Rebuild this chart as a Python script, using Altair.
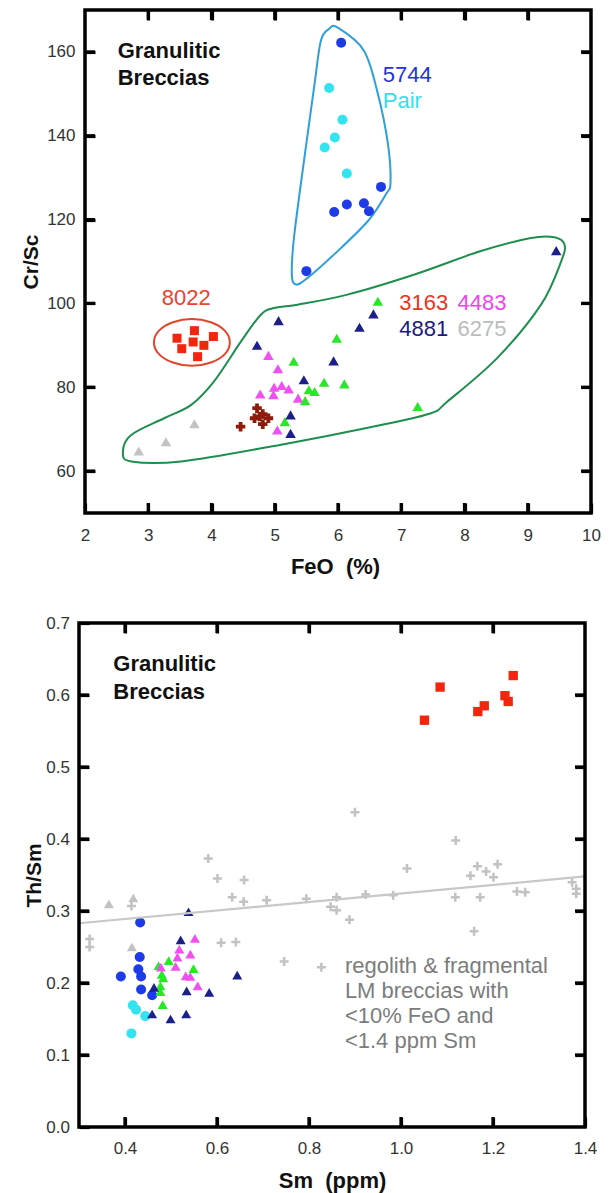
import altair as alt
import pandas as pd

FONT = "Liberation Sans"

# ---------------- top panel: Cr/Sc vs FeO ----------------
s5744_feo = [6.05, 6.68, 5.94, 6.14, 6.41, 6.49, 5.50]
s5744_crsc = [162.2, 127.8, 121.8, 123.6, 123.9, 122.0, 107.7]
pair_feo = [5.86, 6.07, 5.95, 5.79, 6.14]
pair_crsc = [151.4, 143.8, 139.6, 137.2, 131.0]
s4881_feo = [9.45, 5.06, 6.56, 6.34, 4.72, 5.93, 5.46, 5.25, 5.25]
s4881_crsc = [112.6, 95.9, 97.5, 94.3, 90.0, 86.3, 81.8, 73.4, 69.0]
green_feo = [6.63, 5.98, 5.30, 5.78, 6.10, 5.54, 5.63, 5.48, 7.26, 5.16]
green_crsc = [100.5, 91.7, 86.2, 81.2, 80.8, 79.4, 79.0, 76.8, 75.4, 71.8]
s4483_feo = [4.90, 5.05, 4.99, 5.11, 5.22, 4.77, 4.98, 5.37, 5.04]
s4483_crsc = [87.6, 84.4, 80.0, 80.4, 79.6, 78.4, 78.2, 77.4, 69.8]
dkred_feo = [4.46, 4.72, 4.68, 4.81, 4.90, 4.81, 4.76]
dkred_crsc = [70.6, 75.0, 72.6, 73.6, 72.6, 71.2, 73.0]
s6275_feo = [2.85, 3.28, 3.73]
s6275_crsc = [64.8, 67.0, 71.3]
s8022_feo = [3.455, 3.73, 4.03, 3.71, 3.53, 3.88, 3.78]
s8022_crsc = [91.7, 93.5, 92.1, 90.8, 89.2, 90.0, 87.3]

blue_outline_feo = [5.995, 6.41, 6.63, 6.79, 6.83, 6.76, 6.47, 5.94, 5.52, 5.34, 5.27, 5.31, 5.52, 5.63, 5.73, 5.86]
blue_outline_crsc = [165.8, 160.3, 150.0, 138.0, 128.8, 126.1, 119.6, 111.7, 106.1, 104.5, 106.9, 116.5, 140.4, 152.4, 162.7, 165.5]
green_outline_feo = [9.42, 9.58, 9.53, 9.21, 8.52, 7.73, 7.47, 6.68, 5.10, 3.52, 2.73, 2.60, 2.73, 3.25, 3.68, 4.04, 4.47, 4.78, 4.99, 5.36, 6.15, 7.21, 8.26, 9.05]
green_outline_crsc = [115.8, 114.1, 110.1, 99.7, 87.0, 76.6, 73.8, 71.0, 66.3, 62.3, 62.3, 64.6, 68.6, 72.6, 75.8, 81.4, 91.0, 97.3, 98.9, 99.7, 102.1, 106.9, 112.5, 115.6]
red_outline_feo = [4.29, 4.21, 3.99, 3.69, 3.39, 3.17, 3.09, 3.17, 3.39, 3.69, 3.99, 4.21]
red_outline_crsc = [90.7, 93.5, 95.5, 96.3, 95.5, 93.5, 90.7, 87.9, 85.9, 85.1, 85.9, 87.9]

top_x_range = [2, 10]
top_y_range = [50, 170]
top_x_labels = [2, 3, 4, 5, 6, 7, 8, 9, 10]
top_x_ticks = [3, 4, 5, 6, 7, 8, 9]
top_y_labels = [60, 80, 100, 120, 140, 160]
top_y_ticks = [60, 80, 100, 120, 140, 160]

# ---------------- bottom panel: Th/Sm vs Sm ----------------
b8022_sm = [1.051, 1.085, 1.167, 1.181, 1.226, 1.233, 1.244]
b8022_thsm = [0.565, 0.611, 0.577, 0.585, 0.599, 0.591, 0.627]
b5744_sm = [0.433, 0.432, 0.429, 0.435, 0.391, 0.435, 0.459]
b5744_thsm = [0.284, 0.236, 0.219, 0.209, 0.209, 0.191, 0.183]
bpair_sm = [0.417, 0.424, 0.444, 0.414]
bpair_thsm = [0.169, 0.163, 0.154, 0.130]
b4881_sm = [0.538, 0.521, 0.644, 0.463, 0.534, 0.583, 0.459, 0.499, 0.533]
b4881_thsm = [0.299, 0.260, 0.211, 0.194, 0.189, 0.187, 0.157, 0.150, 0.157]
bgreen_sm = [0.473, 0.495, 0.549, 0.483, 0.477, 0.477, 0.482, 0.480]
bgreen_thsm = [0.224, 0.231, 0.220, 0.207, 0.196, 0.188, 0.170, 0.212]
b4483_sm = [0.552, 0.518, 0.514, 0.542, 0.510, 0.478, 0.532, 0.542, 0.558]
b4483_thsm = [0.262, 0.247, 0.236, 0.240, 0.223, 0.222, 0.210, 0.209, 0.196]
b6275_sm = [0.365, 0.418, 0.415]
b6275_thsm = [0.310, 0.318, 0.250]
regolith_sm = [0.323, 0.323, 0.414, 0.581, 0.601, 0.659, 0.633, 0.658, 0.708, 0.794,
               0.860, 0.847, 0.860, 0.888, 0.900, 0.923, 0.983, 1.013, 1.118, 1.119,
               1.172, 1.159, 1.151, 1.166, 1.185, 1.201, 1.210, 1.252, 1.270, 1.372,
               1.381, 1.381, 0.746, 0.827, 0.609, 0.641]
regolith_thsm = [0.261, 0.250, 0.307, 0.373, 0.345, 0.343, 0.319, 0.313, 0.315, 0.317,
                 0.319, 0.306, 0.301, 0.288, 0.437, 0.323, 0.322, 0.359, 0.319, 0.398,
                 0.319, 0.272, 0.349, 0.362, 0.355, 0.347, 0.365, 0.327, 0.326, 0.340,
                 0.331, 0.324, 0.230, 0.222, 0.256, 0.257]
trend_sm = [0.3, 1.4]
trend_thsm = [0.283, 0.348]

bot_x_range = [0.3, 1.4]
bot_y_range = [0.0, 0.7]
bot_x_labels = [0.4, 0.6, 0.8, 1.0, 1.2, 1.4]
bot_x_ticks = [0.4, 0.6, 0.8, 1.0, 1.2]
bot_y_labels = [0.0, 0.1, 0.2, 0.3, 0.4, 0.5, 0.6, 0.7]
bot_y_ticks = [0.1, 0.2, 0.3, 0.4, 0.5, 0.6]

# colours
C_BLUE = "#1d3be6"
C_CYAN = "#33e3f0"
C_NAVY = "#1b1f8a"
C_GREEN = "#28e628"
C_MAGENTA = "#f050f0"
C_DKRED = "#8e1c0c"
C_RED = "#f2260f"
C_GRAY = "#c2c2c2"

PLUS = "M-1,-0.28H-0.28V-1H0.28V-0.28H1V0.28H0.28V1H-0.28V0.28H-1Z"
VBAR = "M-0.32,-1H0.32V1H-0.32Z"
HBAR = "M-1,-0.32H1V0.32H-1Z"
TICK_LEN = 10
TICK_W = 3.2


def make_axis(title, values, fmt, label_pad, title_pad, title_size, inset):
    # ticks point into the frame: the axis is moved `inset` px inside the view
    return alt.Axis(title=title, values=values, format=fmt, ticks=True,
                    tickSize=TICK_LEN, tickWidth=TICK_W, tickColor="black",
                    offset=-inset, domain=False, grid=False, labelFlush=False,
                    labelOverlap=False, labelPadding=label_pad, titlePadding=title_pad,
                    labelFont=FONT, titleFont=FONT, labelFontSize=17,
                    titleFontSize=title_size, labelColor="#333333", titleColor="#111111",
                    titleFontWeight="bold")


def mirror_axis(orient, values):
    return alt.Axis(orient=orient, values=values, labels=False, ticks=True,
                    tickSize=TICK_LEN, tickWidth=TICK_W, tickColor="black",
                    offset=-TICK_LEN, domain=False, grid=False, title=None)


class Panel:
    def __init__(self, xdom, ydom, xaxis, yaxis, w, h, left_px=0.0):
        # left_px: blank strip (pixels) between the panel origin and the frame
        self.xr = xdom
        self.yr = ydom
        self.frame_w = w - left_px
        span = xdom[1] - xdom[0]
        x0 = xdom[0] - span * left_px / self.frame_w
        self.sx = alt.Scale(domain=[x0, xdom[1]], nice=False, zero=False)
        self.sy = alt.Scale(domain=ydom, nice=False, zero=False)
        self.ax = xaxis
        self.ay = yaxis
        self.w = w
        self.h = h
        self.layers = []
        self.mirror = None

    def X(self, f):
        return alt.X(f"{f}:Q", scale=self.sx, axis=self.ax)

    def Y(self, f):
        return alt.Y(f"{f}:Q", scale=self.sy, axis=self.ay)

    def Xd(self, v):
        return alt.X(datum=v, type="quantitative", scale=self.sx, axis=self.ax)

    def Yd(self, v):
        return alt.Y(datum=v, type="quantitative", scale=self.sy, axis=self.ay)

    def dx_px(self, px):
        return (self.xr[1] - self.xr[0]) * px / self.frame_w

    def dy_px(self, px):
        return (self.yr[1] - self.yr[0]) * px / self.h

    def points(self, xs, ys, shape, color, size):
        df = pd.DataFrame({"x": xs, "y": ys})
        self.layers.append(
            alt.Chart(df).mark_point(shape=shape, filled=True, color=color, size=size,
                                     opacity=1, strokeWidth=0)
            .encode(x=self.X("x"), y=self.Y("y")))

    def outline(self, xs, ys, color, width=2.0):
        df = pd.DataFrame({"x": xs, "y": ys, "i": list(range(len(xs)))})
        self.layers.append(
            alt.Chart(df).mark_line(color=color, strokeWidth=width,
                                    interpolate="cardinal-closed")
            .encode(x=self.X("x"), y=self.Y("y"), order=alt.Order("i:Q")))

    def line(self, xs, ys, color, width=2.0):
        df = pd.DataFrame({"x": xs, "y": ys})
        self.layers.append(
            alt.Chart(df).mark_line(color=color, strokeWidth=width)
            .encode(x=self.X("x"), y=self.Y("y")))

    def text(self, txt, x, y, color, size=22, weight="normal", align="left",
             baseline="middle"):
        self.layers.append(
            alt.Chart(pd.DataFrame({"a": [0]}))
            .mark_text(text=txt, color=color, fontSize=size, fontWeight=weight, font=FONT,
                       align=align, baseline=baseline)
            .encode(x=self.Xd(x), y=self.Yd(y)))

    def text_block(self, lines, x, y, color, line_px, **kw):
        step = self.dy_px(line_px)
        for k, ln in enumerate(lines):
            self.text(ln, x, y - k * step, color, baseline="top", **kw)

    def frame(self, width=3.5):
        self.layers.append(
            alt.Chart(pd.DataFrame({"a": [0]}))
            .mark_rect(fillOpacity=0, stroke="black", strokeWidth=width)
            .encode(x=self.Xd(self.xr[0]), x2=alt.X2(datum=self.xr[1]),
                    y=self.Yd(self.yr[0]), y2=alt.Y2(datum=self.yr[1])))

    def frame_ticks(self, xt, yt):
        # inward tick marks on all four sides, drawn as bar symbols at the tick values
        ly = self.dy_px(TICK_LEN / 2)
        lx = self.dx_px(TICK_LEN / 2)
        y0, y1 = self.yr
        x0, x1 = self.xr
        size = TICK_LEN ** 2
        for yc in (y0 + ly, y1 - ly):
            df = pd.DataFrame({"x": [float(v) for v in xt], "y": [yc] * len(xt)})
            self.layers.append(
                alt.Chart(df).mark_point(shape=VBAR, filled=True, color="black",
                                         size=size, opacity=1, strokeWidth=0)
                .encode(x=self.X("x"), y=self.Y("y")))
        for xc in (x0 + lx, x1 - lx):
            df = pd.DataFrame({"x": [xc] * len(yt), "y": [float(v) for v in yt]})
            self.layers.append(
                alt.Chart(df).mark_point(shape=HBAR, filled=True, color="black",
                                         size=size, opacity=1, strokeWidth=0)
                .encode(x=self.X("x"), y=self.Y("y")))

    def mirror_ticks(self, xt, yt):
        # top and right ticks from a second (label-less) pair of axes
        self.mirror = (
            alt.Chart(pd.DataFrame({"a": [0]}))
            .mark_point(opacity=0)
            .encode(x=alt.X(datum=self.xr[0], type="quantitative", scale=self.sx,
                            axis=mirror_axis("top", xt)),
                    y=alt.Y(datum=self.yr[0], type="quantitative", scale=self.sy,
                            axis=mirror_axis("right", yt))))

    def chart(self):
        main = alt.layer(*self.layers)
        return (alt.layer(main, self.mirror)
                .resolve_axis(x="independent", y="independent")
                .properties(width=self.w, height=self.h))


# ---- top ----
top = Panel(top_x_range, top_y_range,
            make_axis("FeO\u00a0 (%)", top_x_labels, "d", 14, 13, 22, TICK_LEN),
            make_axis("Cr/Sc", top_y_labels, "d", 10, 5, 21, TICK_LEN + 6),
            512, 503, left_px=6)
top.outline(green_outline_feo, green_outline_crsc, "#1e8e4e")
top.outline(blue_outline_feo, blue_outline_crsc, "#2e9fd8")
top.outline(red_outline_feo, red_outline_crsc, "#e2442c")
top.points(s6275_feo, s6275_crsc, "triangle-up", C_GRAY, 110)
top.points(dkred_feo, dkred_crsc, "cross", C_DKRED, 90)
top.points(s4483_feo, s4483_crsc, "triangle-up", C_MAGENTA, 110)
top.points(green_feo, green_crsc, "triangle-up", C_GREEN, 110)
top.points(s4881_feo, s4881_crsc, "triangle-up", C_NAVY, 110)
top.points(s8022_feo, s8022_crsc, "square", C_RED, 81)
top.points(pair_feo, pair_crsc, "circle", C_CYAN, 100)
top.points(s5744_feo, s5744_crsc, "circle", C_BLUE, 100)
top.text_block(["Granulitic", "Breccias"], 2.517, 162.5, "#111111", 26.5, weight="bold")
top.text("5744", 6.707, 154.5, "#2233dd")
top.text("Pair", 6.707, 148.3, "#33e0f0")
top.text("8022", 3.60, 101.2, "#e8432c", align="center")
top.text("3163", 6.97, 100.2, "#ee3322")
top.text("4483", 7.89, 100.2, "#ee44ee")
top.text("4881", 6.97, 93.8, "#1a1a80")
top.text("6275", 7.89, 93.8, "#bbbbbb")
top.frame()
top.frame_ticks(top_x_ticks, top_y_ticks)
top.mirror_ticks(top_x_ticks, top_y_ticks)

# ---- bottom ----
bot = Panel(bot_x_range, bot_y_range,
            make_axis("Sm\u00a0 (ppm)", bot_x_labels, ".1f", 13.5, 13.5, 22, TICK_LEN),
            make_axis("Th/Sm", bot_y_labels, ".1f", 9.5, 1, 21, TICK_LEN),
            506, 504)
bot.points(regolith_sm, regolith_thsm, PLUS, C_GRAY, 81)
bot.points(b6275_sm, b6275_thsm, "triangle-up", C_GRAY, 100)
bot.points(b8022_sm, b8022_thsm, "square", C_RED, 87)
bot.points(bpair_sm, bpair_thsm, "circle", C_CYAN, 100)
bot.points(b5744_sm, b5744_thsm, "circle", C_BLUE, 100)
bot.points(bgreen_sm, bgreen_thsm, "triangle-up", C_GREEN, 100)
bot.points(b4483_sm, b4483_thsm, "triangle-up", C_MAGENTA, 100)
bot.points(b4881_sm, b4881_thsm, "triangle-up", C_NAVY, 100)
bot.line(trend_sm, trend_thsm, "#c8c8c8", 2.2)
bot.text_block(["Granulitic", "Breccias"], 0.3746, 0.6564, "#111111", 27.5, weight="bold")
bot.text_block(["regolith & fragmental", "LM breccias with", "<10% FeO and", "<1.4 ppm Sm"],
               0.878, 0.2375, "#7c7c7c", 25)
bot.frame()
bot.frame_ticks(bot_x_ticks, bot_y_ticks)
bot.mirror_ticks(bot_x_ticks, bot_y_ticks)

chart = (
    alt.concat(top.chart(), bot.chart(), columns=1, spacing=37)
    .properties(padding={"left": 12, "top": 0, "right": 0, "bottom": 6})
    .configure_view(strokeWidth=0)
)

chart.save("out.html", embed_options={"renderer": "svg", "actions": False})
